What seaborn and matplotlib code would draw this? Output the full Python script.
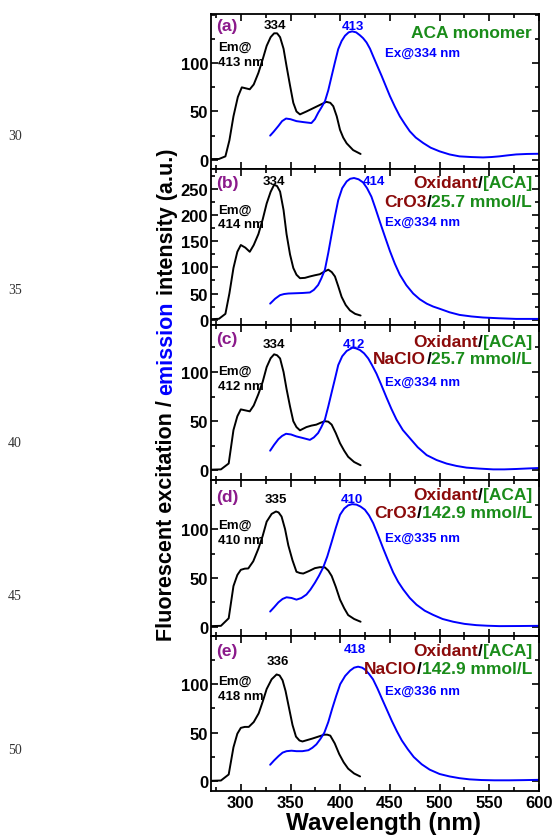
import numpy as np
import pandas as pd
import matplotlib
matplotlib.use("Agg")
import matplotlib.pyplot as plt
import seaborn as sns
from matplotlib.ticker import MultipleLocator, FixedLocator

# ---------------- data ----------------
ex_a_x = [270, 278, 284.5, 288.5, 292.6, 297, 301, 305, 309, 313, 317.7, 322, 326, 330, 333.5, 336.5, 339.5, 343, 346, 349.5, 352.8, 356, 359.5, 366, 376, 382, 386, 390, 393, 396.5, 399.8, 403, 406.5, 413, 420.5]
ex_a_y = [0.7, 0.8, 3.5, 20, 45, 65, 75, 74, 73, 78, 90, 104, 118, 127, 131, 131, 127, 115, 97, 77, 59, 50, 47, 50, 55, 58, 60, 59, 55.5, 45, 31, 23, 17, 10, 6]
em_a_x = [329.5, 333, 337.8, 341.5, 345.5, 350, 356, 363, 371, 374.5, 377.8, 381, 384.7, 388, 391.4, 394.7, 398, 401.4, 404.8, 408.5, 412, 416, 419.8, 423, 426.5, 430, 433, 437, 441.7, 446, 450, 455, 460, 465, 470, 476, 483.4, 491, 500, 510, 520, 532, 543.7, 552, 560, 568, 577, 588, 600]
em_a_y = [25, 29, 35, 40, 42.7, 42, 40, 39, 38, 42, 48.6, 54, 60.8, 72, 86.8, 101, 114.6, 123, 128.5, 132, 133, 132, 129, 126, 121.5, 115, 107.6, 98, 86.8, 76, 66, 55, 45, 37, 29.5, 23, 17.4, 12.5, 8.7, 5.5, 3.5, 2.8, 2.4, 2.8, 3.5, 4.5, 5.5, 6, 6.2]

ex_b_x = [270, 278, 284.5, 288.5, 292.6, 296.5, 300, 304.5, 309, 313, 317.7, 322, 326, 330, 333.5, 336.5, 339.5, 343, 346, 349.5, 352.8, 356, 359.5, 364.5, 369.5, 374.5, 379.5, 384, 388, 391.5, 394.7, 398, 401.4, 405.5, 409.8, 415, 420.5]
ex_b_y = [0.8, 1.5, 11, 50, 99, 130, 143, 138, 130, 143, 164, 192, 222.6, 245, 258.5, 256, 245.4, 210, 164, 125, 99, 86, 79.4, 80, 82.7, 85, 87, 92, 95.7, 91, 82.7, 64, 43.6, 28, 17.6, 11, 7.8]
em_b_x = [329.5, 334.5, 339.5, 343.5, 347.9, 355, 362, 369.5, 373.5, 377.8, 381, 384.6, 388, 391.4, 394.7, 398, 402, 406.5, 410, 413.9, 418.5, 423, 427, 431.4, 435.5, 440, 445, 450, 455, 460, 466.5, 473.4, 480, 487, 493.5, 500, 510, 520, 532, 543.7, 560, 577, 590, 600]
em_b_y = [30.6, 40, 46.9, 49, 50, 50.5, 51, 52, 57, 66.4, 79, 95.7, 128, 164, 198, 229, 252, 265, 270, 271.5, 269, 263, 252, 235.7, 213, 187, 159, 131.5, 107, 86, 66, 50, 39, 30.6, 25, 20.8, 14, 9, 6, 4, 2.5, 1.3, 1.3, 1.3]

ex_c_x = [270, 280, 287.8, 292.6, 296.5, 300, 304.5, 309, 313, 317.7, 322, 326, 330, 333.5, 336.5, 339.5, 343, 346, 349.5, 352.8, 356, 359.5, 366, 371, 376, 380.5, 384.6, 388, 391.4, 395.5, 399.8, 404, 408, 414, 420.5]
ex_c_y = [0.7, 1, 7, 41, 55, 62, 61, 60, 66, 77.6, 90, 105, 114, 118, 117, 113.8, 100, 82.8, 65, 50, 44, 40.7, 44, 45.5, 46.5, 48.5, 50, 49.5, 46.5, 38, 27.6, 20, 13.8, 8.5, 5.2]
em_c_x = [329.5, 333.5, 337.8, 341.5, 345.5, 350.5, 356, 362, 369.5, 373.5, 377.8, 381, 384.6, 388, 391.4, 394.7, 398, 402, 406.5, 412.5, 416, 419.8, 424, 428.2, 432, 436.5, 441.5, 446.6, 451.5, 456.6, 463, 470, 478, 487, 497, 507, 517, 527, 540, 554, 565, 577, 590, 600]
em_c_y = [20, 26, 31.7, 35, 37.2, 36.5, 34.5, 33, 31, 33.5, 38, 44, 51.7, 65, 79.3, 93, 107, 116, 121.4, 124.8, 124, 122.4, 119, 113.8, 107, 98.3, 86.5, 74, 62.5, 51.7, 41, 32.8, 23.5, 15.5, 10.5, 6.9, 4.5, 2.8, 1.8, 1, 1, 1.4, 2, 2.4]

ex_d_x = [270, 280, 287.8, 292.6, 296.5, 300, 304, 307.5, 312.5, 317.7, 322, 326, 331, 335.4, 338, 341, 344.5, 347.8, 352, 356, 359.5, 362.8, 368.5, 374.5, 379.5, 384.6, 388, 391.4, 395.5, 399.8, 404, 408, 414, 420.5]
ex_d_y = [0.7, 1, 8.7, 41.7, 53, 58.3, 59.5, 59.7, 67, 80, 93, 107.6, 115.5, 118, 117, 112.8, 100, 83.3, 68, 56.3, 55, 54.5, 57, 60, 61, 60.8, 57.5, 52, 41, 27.8, 19, 12, 8, 5.2]
em_d_x = [329.5, 333.5, 337.8, 342, 346, 351, 356, 361, 366, 370, 374.5, 378.5, 382.9, 387, 391.4, 395.5, 399.8, 404, 408, 412, 416.4, 420.5, 424.8, 429, 433.2, 438, 443.3, 448.3, 453.3, 458.3, 463.4, 470, 476.8, 485, 493.5, 503, 513.6, 525, 537, 548, 560, 580, 600]
em_d_y = [15.6, 20, 25, 28.5, 30.2, 29.5, 27.8, 29.5, 33, 38, 45, 52, 60.8, 72, 86.8, 101, 114.6, 121, 124.3, 125.5, 125, 123, 119.8, 114, 106, 94, 80, 67.5, 55.6, 46, 38.2, 29.5, 22.6, 16.5, 12.2, 8, 5.2, 3, 1.7, 1.1, 0.7, 0.8, 1]

ex_e_x = [270, 280, 287.8, 292.6, 296.5, 300, 304, 308, 313, 318, 322, 326, 331, 336, 339, 342, 345, 348, 352, 355.5, 359, 362, 367, 372, 378, 384, 387, 390, 394.5, 399, 403.5, 408, 414, 420]
ex_e_y = [0.5, 0.8, 7, 35, 49, 55, 56, 56, 61, 70, 82, 95, 105, 110, 109, 104, 93, 78, 58, 46, 42, 41, 42.5, 44, 46, 48, 48, 47, 39, 28, 19.5, 13, 8, 5]
em_e_x = [329.5, 333.5, 338, 342, 346, 351, 356, 362, 368, 372, 376, 380, 384, 388, 392, 396, 400, 405, 410, 414, 418, 422, 425, 429, 433, 437.5, 442, 447, 452, 457, 462, 468, 474, 482, 490, 500, 510, 520, 530, 542, 555, 570, 585, 600]
em_e_y = [17, 21.5, 26, 29.5, 31, 31.5, 31, 31, 32, 34.5, 38, 43.5, 50, 61, 75, 88, 100, 108.5, 114, 117, 118, 117, 115, 110.5, 105, 95.5, 85, 73.5, 62, 51.5, 42, 33, 25, 17.5, 12, 7.5, 5, 3.2, 2, 1.3, 1, 1, 1.2, 1.5]

panel_letters = ["(a)", "(b)", "(c)", "(d)", "(e)"]
ex_peaks = ["334", "334", "334", "335", "336"]
em_peaks = ["413", "414", "412", "410", "418"]
ex_wls = ["334", "334", "334", "335", "336"]
oxidants = [None, "CrO3", "NaClO", "CrO3", "NaClO"]
concs = [None, "25.7 mmol/L", "25.7 mmol/L", "142.9 mmol/L", "142.9 mmol/L"]
y_limits = [(-10, 151), (-10, 288), (-10, 148), (-9, 150), (-10, 150)]
y_ticks = [[0, 50, 100], [0, 50, 100, 150, 200, 250], [0, 50, 100], [0, 50, 100], [0, 50, 100]]
x_ticks = [300, 350, 400, 450, 500, 550, 600]
line_numbers = ["30", "35", "40", "45", "50"]

ex_series = [(ex_a_x, ex_a_y), (ex_b_x, ex_b_y), (ex_c_x, ex_c_y), (ex_d_x, ex_d_y), (ex_e_x, ex_e_y)]
em_series = [(em_a_x, em_a_y), (em_b_x, em_b_y), (em_c_x, em_c_y), (em_d_x, em_d_y), (em_e_x, em_e_y)]

# ---------------- style ----------------
sns.set_style("ticks")
plt.rcParams['font.family'] = ['Liberation Sans', 'DejaVu Sans']
plt.rcParams['font.weight'] = 'bold'
plt.rcParams['axes.linewidth'] = 1.3

PURPLE = '#8B1A8B'
GREEN = '#1A8C1A'
DRED = '#8B0A0A'
BLUE = '#0000FF'

W, H = 552, 837
fig = plt.figure(figsize=(W / 100, H / 100), dpi=100)
renderer = fig.canvas.get_renderer()

L, R, T0, PH = 211, 539, 15, 155.4

lay = [
    dict(let=12, exl=(275, 11), eml=(353, 12), ox=18, l2=None, exn=39, em=33),
    dict(let=13, exl=(274, 12), eml=(374, 12), ox=13, l2=32, exn=52, em=40),
    dict(let=14, exl=(274, 19), eml=(354, 19), ox=17, l2=34, exn=57, em=46),
    dict(let=16, exl=(276, 19), eml=(352, 19), ox=14, l2=32, exn=58, em=45),
    dict(let=15, exl=(278, 25), eml=(355, 13), ox=15, l2=33, exn=55, em=45),
]


def fx(px):
    return px / W


def fy(py):
    return 1 - py / H


def tw(s, size):
    if s == '':
        return 0.0
    t = fig.text(0, 0, s + '|', fontsize=size, fontweight='bold')
    w1 = t.get_window_extent(renderer).width
    t.remove()
    t = fig.text(0, 0, '|', fontsize=size, fontweight='bold')
    w2 = t.get_window_extent(renderer).width
    t.remove()
    return w1 - w2


def multicolor_right(pieces, xr, py, size):
    full = ''.join(s for s, _ in pieces)
    start = xr - tw(full, size)
    prefix = ''
    for s, c in pieces:
        x = start + tw(prefix, size)
        fig.text(fx(x), fy(py), s, color=c, fontsize=size, fontweight='bold',
                 ha='left', va='center')
        prefix += s


axes = []
for i in range(5):
    top = T0 + PH * i
    ax = fig.add_axes([L / W, 1 - (top + PH) / H, (R - L) / W, PH / H])
    axes.append(ax)
    exx, exy = ex_series[i]
    emx, emy = em_series[i]
    sns.lineplot(data=pd.DataFrame({'wl': exx, 'I': exy}), x='wl', y='I', ax=ax,
                 color='black', lw=1.4, sort=False, estimator=None)
    sns.lineplot(data=pd.DataFrame({'wl': emx, 'I': emy}), x='wl', y='I', ax=ax,
                 color=BLUE, lw=1.4, sort=False, estimator=None)
    ax.set_xlim(270, 600)
    ax.set_ylim(*y_limits[i])
    ax.xaxis.set_major_locator(MultipleLocator(50))
    ax.xaxis.set_minor_locator(MultipleLocator(25))
    ax.yaxis.set_major_locator(FixedLocator(y_ticks[i]))
    ax.yaxis.set_minor_locator(MultipleLocator(25))
    ax.tick_params(which='both', direction='in', top=True, right=True, width=1.2,
                   labelsize=12, pad=2, colors='black')
    ax.tick_params(which='major', length=5)
    ax.tick_params(which='minor', length=3)
    ax.set_xlabel('')
    ax.set_ylabel('')
    ax.set_yticklabels([str(v) for v in y_ticks[i]], fontweight='bold')
    if i < 4:
        ax.tick_params(axis='x', labelbottom=False)
    else:
        ax.set_xticks(x_ticks)
        ax.set_xticklabels([str(v) for v in x_ticks], fontweight='bold')
        ax.tick_params(axis='x', pad=3)
    for sp in ax.spines.values():
        sp.set_linewidth(1.3)
        sp.set_color('black')

    d = lay[i]
    fig.text(fx(216), fy(top + d['let']), panel_letters[i], color=PURPLE,
             fontsize=12.5, fontweight='bold', ha='left', va='center')
    fig.text(fx(d['exl'][0]), fy(top + d['exl'][1]), ex_peaks[i], color='black',
             fontsize=9.5, fontweight='bold', ha='center', va='center')
    fig.text(fx(d['eml'][0]), fy(top + d['eml'][1]), em_peaks[i], color=BLUE,
             fontsize=9.5, fontweight='bold', ha='center', va='center')
    fig.text(fx(218), fy(top + d['em']), 'Em@', color='black',
             fontsize=9.5, fontweight='bold', ha='left', va='center')
    fig.text(fx(218), fy(top + d['em'] + 15), em_peaks[i] + ' nm', color='black',
             fontsize=9.5, fontweight='bold', ha='left', va='center')
    fig.text(fx(385), fy(top + d['exn']), 'Ex@' + ex_wls[i] + ' nm', color=BLUE,
             fontsize=9.5, fontweight='bold', ha='left', va='center')
    if oxidants[i] is None:
        fig.text(fx(532), fy(top + d['ox']), 'ACA monomer', color=GREEN,
                 fontsize=12.5, fontweight='bold', ha='right', va='center')
    else:
        multicolor_right([('Oxidant', DRED), ('/', 'black'), ('[ACA]', GREEN)],
                         532, top + d['ox'], 12.5)
        multicolor_right([(oxidants[i], DRED), ('/', 'black'), (concs[i], GREEN)],
                         532, top + d['l2'], 12.5)

# x label
fig.text(fx(383), fy(824), 'Wavelength (nm)', fontsize=17.5, fontweight='bold',
         ha='center', va='center', color='black')

# multicolor rotated y label
ylab = [('Fluorescent excitation / ', 'black'), ('emission', BLUE),
        (' intensity (a.u.)', 'black')]
ysize = 15.5
full = ''.join(s for s, _ in ylab)
total = tw(full, ysize)
ycen = 395
start = (H - ycen) - total / 2
prefix = ''
for s, c in ylab:
    pos = start + tw(prefix, ysize)
    fig.text(fx(167), pos / H, s, color=c, fontsize=ysize, fontweight='bold',
             rotation=90, rotation_mode='anchor', ha='left', va='center')
    prefix += s

# manuscript line numbers
for k, ln in enumerate(line_numbers):
    fig.text(fx(15), fy(137 + 153.3 * k), ln, fontsize=10, fontweight='normal',
             family=['Liberation Serif', 'DejaVu Serif'], color='#333333',
             ha='center', va='center')

fig.savefig('out.png', dpi=100)
